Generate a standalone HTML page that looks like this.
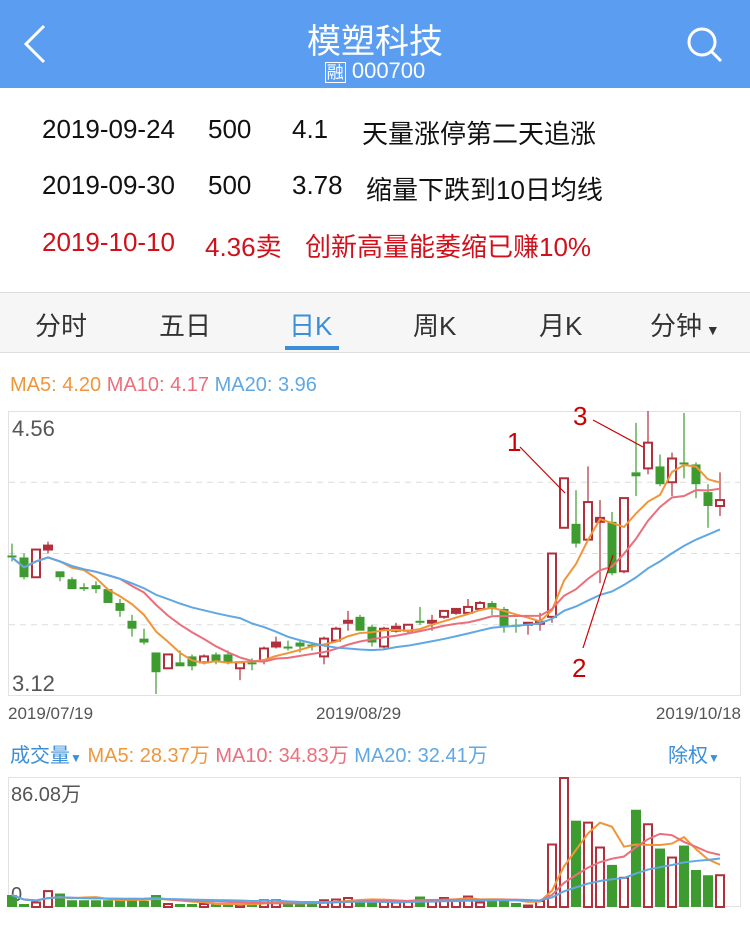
<!DOCTYPE html>
<html><head><meta charset="utf-8"><style>
body{margin:0;width:750px;height:945px;overflow:hidden;background:#fff;font-family:"Liberation Sans","Noto Sans CJK SC",sans-serif;position:relative}
.a{position:absolute;white-space:nowrap}
</style></head><body>
<div class="a" style="left:0;top:0;width:750px;height:88px;background:#5b9df1"></div>
<svg class="a" style="left:20px;top:22px" width="30" height="44"><polyline points="24,4 6,22 24,40" fill="none" stroke="#fff" stroke-width="3"/></svg>
<div class="a" style="left:0;width:750px;top:14px;text-align:center;color:#fff;font-size:34px">模塑科技</div>
<div class="a" style="left:0;width:750px;top:58px;text-align:center;color:#fff;font-size:22px"><span style="border:1px solid #fff;font-size:17px;padding:0 1px">融</span> 000700</div>
<svg class="a" style="left:686px;top:26px" width="40" height="40"><circle cx="16" cy="16" r="13" fill="none" stroke="#fff" stroke-width="3"/><line x1="25" y1="25" x2="35" y2="35" stroke="#fff" stroke-width="3"/></svg>

<div style="font-size:26px;color:#111">
<span class="a" style="left:42px;top:114px">2019-09-24</span><span class="a" style="left:208px;top:114px">500</span><span class="a" style="left:292px;top:114px">4.1</span><span class="a" style="left:362px;top:114px">天量涨停第二天追涨</span></div>
<div style="font-size:26px;color:#111">
<span class="a" style="left:42px;top:170px">2019-09-30</span><span class="a" style="left:208px;top:170px">500</span><span class="a" style="left:292px;top:170px">3.78</span><span class="a" style="left:366px;top:170px">缩量下跌到10日均线</span></div>
<div style="font-size:26px;color:#d0101a">
<span class="a" style="left:42px;top:227px">2019-10-10</span><span class="a" style="left:205px;top:227px">4.36卖</span><span class="a" style="left:305px;top:227px">创新高量能萎缩已赚10%</span></div>

<div class="a" style="left:0;top:292px;width:750px;height:59px;background:#f6f6f6;border-top:1px solid #ddd;border-bottom:1px solid #ddd"></div>
<div style="font-size:26px;color:#333">
<span class="a" style="left:35px;top:306px">分时</span>
<span class="a" style="left:159px;top:306px">五日</span>
<span class="a" style="left:289px;top:306px;color:#3b8fd9">日K</span>
<span class="a" style="left:413px;top:306px">周K</span>
<span class="a" style="left:539px;top:306px">月K</span>
<span class="a" style="left:650px;top:306px">分钟<span style="font-size:14px"> ▼</span></span>
</div>
<div class="a" style="left:285px;top:346px;width:54px;height:4px;background:#3b8fd9"></div>

<div class="a" style="left:10px;top:374px;font-size:20px"><span style="color:#f0963a">MA5: 4.20</span> <span style="color:#ea6f7c">MA10: 4.17</span> <span style="color:#5fa8e4">MA20: 3.96</span></div>
<div class="a" style="left:10px;top:739px;font-size:20px"><span style="color:#3b8fd9">成交量<span style="font-size:12px">▼</span></span> <span style="color:#f0963a">MA5: 28.37万</span> <span style="color:#ea6f7c">MA10: 34.83万</span> <span style="color:#5fa8e4">MA20: 32.41万</span></div>
<div class="a" style="left:668px;top:739px;font-size:20px;color:#3b8fd9">除权<span style="font-size:12px">▼</span></div>

<svg class="a" id="chart" style="left:0;top:0" width="750" height="945"></svg>
<script>
const dates=['2019/07/19','2019/08/29','2019/10/18'];
const priceTicks=['4.56','3.12'];
const opens=[3.83,3.82,3.72,3.86,3.75,3.71,3.67,3.68,3.66,3.59,3.50,3.41,3.34,3.26,3.29,3.32,3.29,3.33,3.33,3.26,3.29,3.30,3.37,3.37,3.39,3.38,3.32,3.40,3.49,3.52,3.47,3.37,3.45,3.45,3.50,3.49,3.52,3.54,3.54,3.56,3.59,3.56,3.48,3.48,3.49,3.52,3.97,3.99,3.91,4.00,4.00,3.75,4.25,4.27,4.28,4.20,4.30,4.29,4.15,4.08];
const closes=[3.82,3.72,3.86,3.88,3.72,3.66,3.66,3.66,3.59,3.55,3.46,3.39,3.24,3.33,3.27,3.27,3.32,3.29,3.29,3.29,3.28,3.36,3.39,3.365,3.37,3.37,3.41,3.46,3.50,3.45,3.39,3.46,3.47,3.48,3.49,3.50,3.55,3.56,3.57,3.59,3.56,3.47,3.47,3.49,3.495,3.84,4.22,3.89,4.10,4.02,3.74,4.12,4.23,4.40,4.19,4.32,4.295,4.19,4.08,4.11];
const highs=[3.89,3.84,3.86,3.90,3.75,3.72,3.69,3.70,3.66,3.61,3.53,3.46,3.34,3.33,3.35,3.33,3.33,3.34,3.35,3.29,3.31,3.37,3.42,3.40,3.40,3.39,3.42,3.47,3.55,3.53,3.48,3.47,3.49,3.48,3.57,3.53,3.55,3.56,3.61,3.60,3.60,3.57,3.51,3.49,3.54,3.84,4.22,4.16,4.28,4.11,4.05,4.12,4.50,4.56,4.34,4.35,4.55,4.30,4.19,4.25];
const lows=[3.80,3.71,3.72,3.84,3.70,3.66,3.65,3.64,3.59,3.52,3.42,3.38,3.13,3.26,3.27,3.25,3.28,3.28,3.28,3.20,3.25,3.28,3.36,3.35,3.34,3.35,3.28,3.39,3.45,3.45,3.37,3.36,3.44,3.44,3.48,3.45,3.51,3.53,3.53,3.55,3.53,3.44,3.44,3.43,3.45,3.49,3.97,3.87,3.91,3.69,3.73,3.74,4.13,4.24,4.18,4.13,4.22,4.12,3.97,4.03];
const volumes=[8,2,3,10.6,9,4.5,4.5,4.5,4.5,4.5,6,4,8,2,2,2,2,2,2,1.5,1.5,4.5,4.5,2,2,3,4.5,5,6,5,5,3.5,3,3.5,7,4.5,6,5,7,3,5,5.3,2.7,1,4,41.7,86.08,57.6,56.3,39.7,28.1,19.5,64.9,55.2,39,33,41,24.7,21.2,21.2];
const volTicks=['86.08万','0'];

const svg=document.getElementById('chart');const NS='http://www.w3.org/2000/svg';
function mk(t,a,p){const e=document.createElementNS(NS,t);for(const k in a)e.setAttribute(k,a[k]);(p||svg).appendChild(e);return e;}
const PT=411,PB=696,PMAX=4.56,PMIN=3.12,VT=778,VB=907,VMAX=86.08;
const xOf=i=>12+i*12;
const yP=p=>PT+(PMAX-p)/(PMAX-PMIN)*(PB-PT);
const yV=v=>VB-v/VMAX*(VB-VT);
const RED='#b0303c',GREEN='#3d9b2f';
// frames
let f=mk('rect',{x:8.5,y:411.5,width:732,height:284,fill:'none',stroke:'#e2e2e2'});


for(let k=1;k<4;k++){const g=mk('line',{x1:9,x2:740,y1:PT+k*(PB-PT)/4,y2:PT+k*(PB-PT)/4,stroke:'#ddd','stroke-dasharray':'6,5'});

}
let vf=mk('rect',{x:8.5,y:777.5,width:732,height:129,fill:'none',stroke:'#e2e2e2'});


// tick labels
[[priceTicks[0],436],[priceTicks[1],691]].forEach(([t,y])=>{const e=mk('text',{x:12,y:y,'font-size':22,fill:'#555','font-family':'Liberation Sans'});e.textContent=t;

});
[[volTicks[0],801],[volTicks[1],901]].forEach(([t,y])=>{const e=mk('text',{x:11,y:y,'font-size':20,fill:'#555','font-family':'Liberation Sans, Noto Sans CJK SC, sans-serif'});e.textContent=t;

});
[[dates[0],8,'start'],[dates[1],316,'start'],[dates[2],741,'end']].forEach(([t,x,a])=>{const e=mk('text',{x:x,y:719,'font-size':17,fill:'#555','text-anchor':a,'font-family':'Liberation Sans'});e.textContent=t;

});
// candles
for(let i=0;i<opens.length;i++){
 const up=closes[i]>=opens[i],c=up?RED:GREEN,x=xOf(i);
 const g=mk('g',{});
 
 
 const top=yP(Math.max(opens[i],closes[i])),bot=yP(Math.min(opens[i],closes[i]));
 mk('line',{x1:x,x2:x,y1:yP(highs[i]),y2:top,stroke:c,'stroke-width':1.2},g);
 mk('line',{x1:x,x2:x,y1:bot,y2:yP(lows[i]),stroke:c,'stroke-width':1.2},g);
 const h=Math.max(bot-top,2);
 if(up)mk('rect',{x:x-4,y:top,width:8,height:h,fill:h<5?c:'#fff',stroke:c,'stroke-width':2},g);
 else mk('rect',{x:x-4.5,y:top,width:9,height:h,fill:c},g);
 const vy=yV(volumes[i]);
 const b=up?mk('rect',{x:x-4,y:vy,width:8,height:VB-vy,fill:'#fff',stroke:c,'stroke-width':2}):mk('rect',{x:x-5,y:vy,width:10,height:VB-vy,fill:c});
 
 
}
function ma(arr,n){return arr.map((_,i)=>{const s=arr.slice(Math.max(0,i-n+1),i+1);return s.reduce((a,b)=>a+b,0)/s.length;});}
[[5,'#f0963a','ma5'],[10,'#ea6f7c','ma10'],[20,'#5fa8e4','ma20']].forEach(([n,col,nm])=>{
 const m=ma(closes,n);const l=mk('polyline',{points:m.map((v,i)=>xOf(i)+','+yP(v)).join(' '),fill:'none',stroke:col,'stroke-width':2});
 
 
 const mv=ma(volumes,n);const l2=mk('polyline',{points:mv.map((v,i)=>xOf(i)+','+yV(v)).join(' '),fill:'none',stroke:col,'stroke-width':2});
 
 
});
// annotations
[['1',507,451,520,447,565,493],['3',573,425,593,420,643,447],['2',572,677,583,648,613,555]].forEach(([t,tx,ty,x1,y1,x2,y2])=>{
 const e=mk('text',{x:tx,y:ty,'font-size':26,fill:'#cc0000','font-family':'Liberation Sans'});e.textContent=t;
 
 
 const l=mk('line',{x1:x1,y1:y1,x2:x2,y2:y2,stroke:'#cc0000','stroke-width':1.2});
 
 
});
</script>
</body></html>
